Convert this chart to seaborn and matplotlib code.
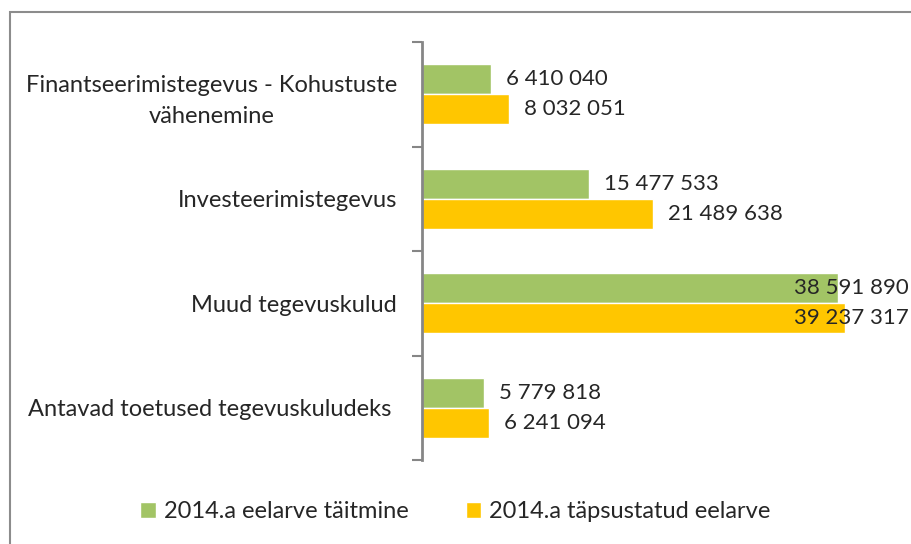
import numpy as np
import pandas as pd
import matplotlib
matplotlib.use("Agg")
import matplotlib.pyplot as plt
import seaborn as sns
from matplotlib.patches import Rectangle

# andmed
categories = [
    "Finantseerimistegevus - Kohustuste\nvähenemine",
    "Investeerimistegevus",
    "Muud tegevuskulud",
    "Antavad toetused tegevuskuludeks ",
]
series_names = ["2014.a eelarve täitmine", "2014.a täpsustatud eelarve"]
taitmine = [6410040, 15477533, 38591890, 5779818]
tapsustatud = [8032051, 21489638, 39237317, 6241094]
colors = ["#A2C465", "#FFC600"]

sns.set_style("white")
plt.rcParams["font.family"] = ["Lato", "DejaVu Sans"]

df = pd.DataFrame({
    "Kategooria": categories * 2,
    "Seeria": [series_names[0]] * 4 + [series_names[1]] * 4,
    "Summa": taitmine + tapsustatud,
})

fig = plt.figure(figsize=(9.11, 5.44), dpi=100)
ax = fig.add_axes([422 / 911, 84 / 544, 489 / 911, 418 / 544])

sns.barplot(data=df, y="Kategooria", x="Summa", hue="Seeria", order=categories,
            hue_order=series_names, palette=colors, orient="h", width=0.57,
            saturation=1, ax=ax, legend=True)

xmax = 45.4e6
ax.set_xlim(0, xmax)
ax.set_ylim(len(categories) - 0.5, -0.5)
ax.set_xlabel("")
ax.set_ylabel("")
ax.set_xticks([])

# tick marks at category borders, labels at centres
ax.set_yticks(np.arange(-0.5, len(categories)), labels=[""] * (len(categories) + 1))
ax.set_yticks(np.arange(len(categories)), labels=categories, minor=True)
ax.tick_params(axis="y", which="major", length=7, width=1.5, color="#868686", left=True)
ax.tick_params(axis="y", which="minor", length=0, pad=18, labelsize=17)
for lbl in ax.get_yticklabels(minor=True):
    lbl.set_multialignment("center")
    lbl.set_linespacing(1.55)

for side in ["top", "right", "bottom"]:
    ax.spines[side].set_visible(False)
ax.spines["left"].set_color("#868686")
ax.spines["left"].set_linewidth(2)

# data labels
for container in ax.containers:
    for bar in container:
        w = bar.get_width()
        yc = bar.get_y() + bar.get_height() / 2
        txt = f"{int(w):,}".replace(",", " ")
        if w > 0.8 * xmax:
            ax.annotate(txt, (xmax, yc), xytext=(-2, 0), textcoords="offset pixels",
                        ha="right", va="center", fontsize=16, annotation_clip=False)
        else:
            ax.annotate(txt, (w, yc), xytext=(15, 0), textcoords="offset pixels",
                        ha="left", va="center", fontsize=16)

ax.get_legend().remove()
handles, labels = ax.get_legend_handles_labels()
fig.legend(handles, labels, loc="center", bbox_to_anchor=(0.5, 32 / 544), ncol=2,
           frameon=False, fontsize=17, handlelength=0.65, handleheight=0.65,
           handletextpad=0.35, columnspacing=2.4)

# outer chart border
fig.patches.append(Rectangle((10 / 911, -0.1), 1.2, (544 - 12) / 544 + 0.1,
                             transform=fig.transFigure, fill=False,
                             edgecolor="#8C8C8C", linewidth=1.5))

fig.savefig("out.png", dpi=100)
